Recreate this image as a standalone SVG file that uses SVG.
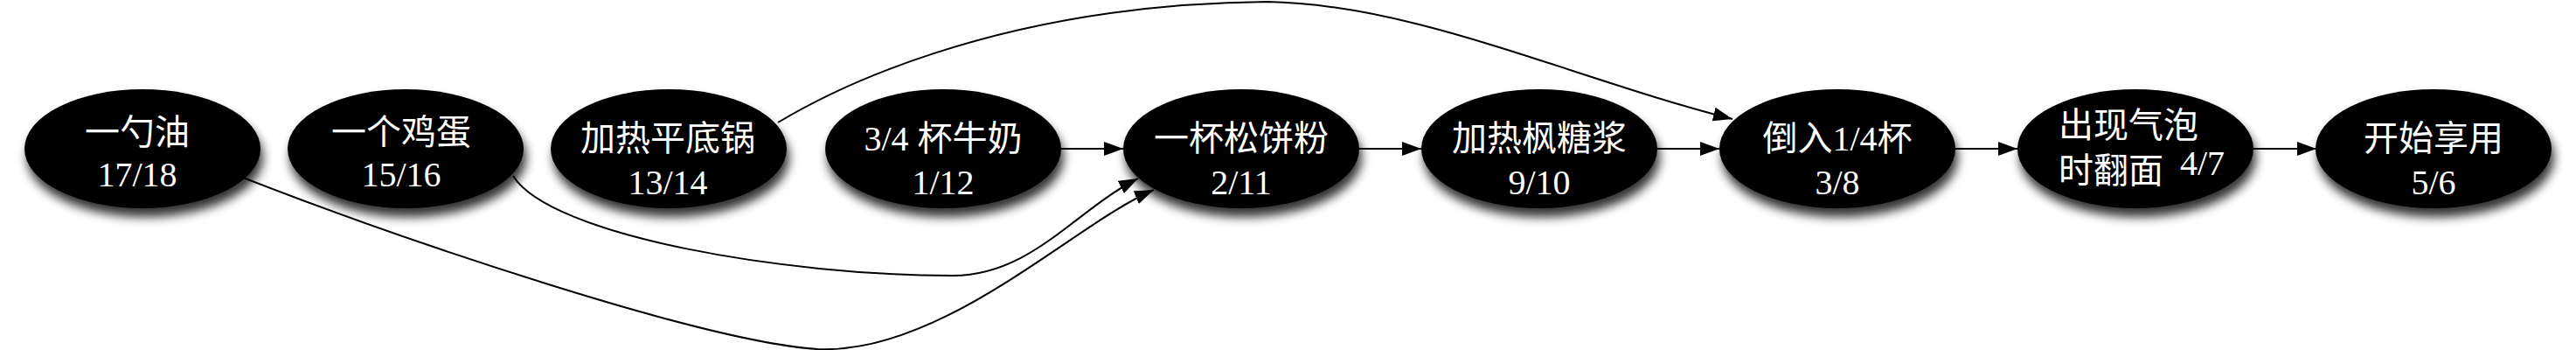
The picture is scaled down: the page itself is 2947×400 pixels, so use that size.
<svg xmlns="http://www.w3.org/2000/svg" width="2947" height="400" viewBox="0 0 2947 400">
<style>
.node ellipse { fill:#000; filter:url(#shadow); }
.node text { fill:#fff; font-family:"Liberation Serif","Noto Sans CJK SC",serif; font-size:40px; text-anchor:middle; }
.edge { fill:none; stroke:#000; stroke-width:2; marker-end:url(#arrow); }
</style>
<defs>
<filter id="shadow" x="-20%" y="-40%" width="140%" height="190%">
<feGaussianBlur in="SourceAlpha" stdDeviation="6"/>
<feOffset dx="3" dy="10"/>
<feComponentTransfer><feFuncA type="linear" slope="0.8"/></feComponentTransfer>
<feMerge><feMergeNode/><feMergeNode in="SourceGraphic"/></feMerge>
</filter>
<marker id="arrow" markerUnits="userSpaceOnUse" markerWidth="23" markerHeight="17" refX="22" refY="8" orient="auto">
<path d="M0,0 L22,8 L0,16 z" fill="#000"/>
</marker>
</defs>
<g id="nodes">
<g id="n1" class="node"><ellipse cx="163" cy="170" rx="135" ry="68"/><text x="157" y="165">一勺油</text><text x="157" y="213">17/18</text></g>
<g id="n2" class="node"><ellipse cx="464" cy="170" rx="135" ry="68"/><text x="459" y="165">一个鸡蛋</text><text x="459" y="213">15/16</text></g>
<g id="n3" class="node"><ellipse cx="765" cy="170" rx="135" ry="68"/><text x="764" y="172">加热平底锅</text><text x="764" y="222">13/14</text></g>
<g id="n4" class="node"><ellipse cx="1079" cy="170" rx="135" ry="68"/><text x="1079" y="172">3/4 杯牛奶</text><text x="1079" y="222">1/12</text></g>
<g id="n5" class="node"><ellipse cx="1420" cy="170" rx="135" ry="68"/><text x="1420" y="172">一杯松饼粉</text><text x="1420" y="222">2/11</text></g>
<g id="n6" class="node"><ellipse cx="1761" cy="170" rx="135" ry="68"/><text x="1761" y="172">加热枫糖浆</text><text x="1761" y="222">9/10</text></g>
<g id="n7" class="node"><ellipse cx="2102" cy="170" rx="135" ry="68"/><text x="2102" y="172">倒入1/4杯</text><text x="2102" y="222">3/8</text></g>
<g id="n8" class="node"><ellipse cx="2443" cy="170" rx="135" ry="68"/><text x="2355" y="157" style="text-anchor:start">出现气泡</text><text x="2355" y="209" style="text-anchor:start">时翻面<tspan x="2494" y="200">4/7</tspan></text></g>
<g id="n9" class="node"><ellipse cx="2784" cy="170" rx="135" ry="68"/><text x="2784" y="172">开始享用</text><text x="2784" y="222">5/6</text></g>
</g>
<g id="connectors">
<path class="edge" d="M890,140 C940,110 1130,5 1450,2 C1620,5 1800,90 1982,136"/>
<path class="edge" d="M587,201 C630,270 900,315 1090,315 C1180,315 1230,240 1302,204"/>
<path class="edge" d="M278,203 C450,270 800,390 935,399 C1080,405 1230,255 1320,217"/>
<path class="edge" d="M1214,170 L1285,170"/>
<path class="edge" d="M1555,170 L1626,170"/>
<path class="edge" d="M1896,170 L1967,170"/>
<path class="edge" d="M2237,170 L2308,170"/>
<path class="edge" d="M2578,170 L2650,170"/>
</g>
</svg>
